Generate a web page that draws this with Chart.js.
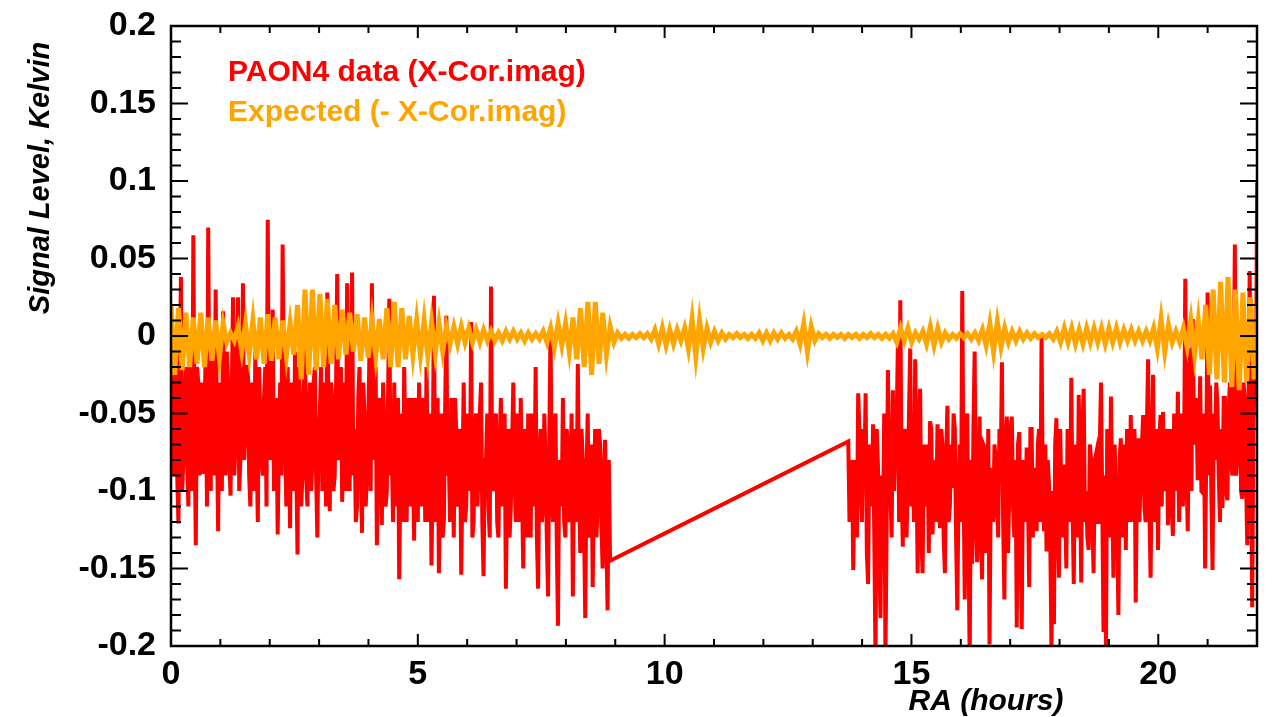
<!DOCTYPE html>
<html lang="en">
<head>
<meta charset="UTF-8">
<title>PAON4 X-Cor.imag</title>
<script src="https://cdn.jsdelivr.net/npm/chart.js@4.4.0/dist/chart.umd.min.js"></script>
<style>
    html, body { margin: 0; padding: 0; background: #fff; }
</style>
</head>
<body>

<canvas id="raChart" width="1272" height="717"></canvas>

<script>
    // RA axis (hours) and signal axis (Kelvin)
    const xTicks = [0, 5, 10, 15, 20];
    const yTicks = [-0.2, -0.15, -0.1, -0.05, 0, 0.05, 0.1, 0.15, 0.2];

    // PAON4 data, first stretch: samples from RA 0 h, every 0.05025 h,
    // redA on the whole steps, redAMid half a step later
    const redStartA = 0, redStepA = 0.05025;
    const redA = [
        -0.02, -0.09, -0.01, -0.121, 0.038, -0.08, -0.02, -0.11, -0.04, 0.065,
        -0.135, -0.03, -0.06, -0.089, -0.01, 0.070, -0.10, -0.04, 0.030, -0.126,
        -0.05, 0.016, -0.09, -0.03, -0.103, 0.025, -0.07, 0.025, -0.08, 0.034,
        -0.06, -0.02, -0.11, -0.04, -0.01, -0.12, -0.05, -0.09, -0.02, 0.075,
        -0.08, 0.017, -0.06, -0.128, -0.03, 0.059, -0.07, -0.02, -0.124, -0.05,
        -0.01, -0.141, -0.04, -0.09, 0.00, -0.11, -0.03, -0.08, -0.02, -0.130,
        -0.05, -0.10, -0.03, 0.028, -0.113, -0.04, -0.09, 0.040, -0.07, -0.107,
        -0.03, 0.034, -0.10, 0.041, -0.06, -0.11, -0.02, -0.127, -0.05, -0.09,
        -0.01, 0.034, -0.08, -0.135, -0.04, -0.122, -0.06, -0.10, 0.024, -0.07,
        -0.03, -0.11, -0.157, -0.05, -0.02, -0.12, -0.06, -0.04, -0.132, -0.07,
        -0.03, -0.11, -0.06, -0.02, -0.12, -0.148, 0.026, -0.09, -0.153, -0.05,
        -0.12, 0.013, -0.08, -0.04, -0.13, -0.06, -0.10, -0.154, -0.03, -0.11,
        -0.07, 0.009, -0.12, -0.05, -0.09, -0.03, -0.155, -0.08, -0.11, 0.032,
        -0.10, -0.05, -0.13, -0.04, -0.09, -0.163, -0.06, -0.11, -0.03, -0.12,
        -0.07, -0.04, -0.15, -0.09, -0.05, -0.13, -0.07, -0.02, -0.163, -0.06,
        -0.11, -0.08, -0.168, 0.006, -0.12, -0.05, -0.187, -0.09, -0.04, -0.13,
        -0.07, -0.11, -0.168, -0.06, -0.018, -0.14, -0.08, -0.182, -0.05, -0.12,
        -0.162, -0.06, -0.11, -0.07, -0.15, -0.067, -0.177, -0.145
    ];
    const redAMid = [
        -0.06, -0.04, -0.09, -0.02, -0.10, -0.05, -0.08, -0.01, -0.10, -0.06,
        -0.02, -0.09, -0.03, -0.05, -0.11, -0.07, -0.01, -0.09, -0.06, -0.03,
        -0.10, -0.06, -0.01, -0.08, -0.04, -0.09, -0.02, -0.10, -0.05, -0.08,
        -0.02, -0.09, -0.03, -0.10, -0.07, -0.02, -0.08, -0.04, -0.11, -0.06,
        -0.02, -0.10, -0.04, -0.07, -0.09, -0.03, -0.11, -0.06, -0.03, -0.10,
        -0.08, -0.02, -0.11, -0.04, -0.09, -0.05, -0.10, -0.03, -0.09, -0.06,
        -0.02, -0.07, -0.11, -0.05, -0.03, -0.10, -0.04, -0.08, -0.02, -0.06,
        -0.10, -0.07, -0.03, -0.09, -0.12, -0.04, -0.08, -0.03, -0.11, -0.06,
        -0.10, -0.05, -0.02, -0.09, -0.05, -0.03, -0.11, -0.04, -0.09, -0.12,
        -0.08, -0.04, -0.09, -0.12, -0.07, -0.04, -0.11, -0.08, -0.04, -0.12,
        -0.09, -0.04, -0.12, -0.08, -0.05, -0.09, -0.12, -0.04, -0.10, -0.13,
        -0.05, -0.09, -0.12, -0.07, -0.04, -0.11, -0.06, -0.09, -0.12, -0.05,
        -0.10, -0.13, -0.06, -0.11, -0.05, -0.12, -0.08, -0.05, -0.13, -0.09,
        -0.06, -0.12, -0.07, -0.11, -0.05, -0.10, -0.13, -0.07, -0.09, -0.05,
        -0.12, -0.10, -0.06, -0.13, -0.08, -0.05, -0.11, -0.13, -0.08, -0.12,
        -0.05, -0.13, -0.07, -0.10, -0.06, -0.13, -0.08, -0.11, -0.12, -0.06,
        -0.12, -0.05, -0.09, -0.12, -0.10, -0.06, -0.12, -0.09, -0.13, -0.07,
        -0.10, -0.13, -0.06, -0.12, -0.09, -0.13, -0.08
    ];

    // PAON4 data, second stretch: from RA 13.72 h, every 0.0502 h
    const redStartB = 13.72, redStepB = 0.0502;
    const redB = [
        -0.068, -0.10, -0.151, -0.08, -0.037, -0.097, -0.06, -0.037, -0.160, -0.09,
        -0.057, -0.21, -0.085, -0.182, -0.126, -0.21, -0.022, -0.10, -0.035, -0.07,
        -0.007, 0.023, -0.136, -0.06, -0.10, -0.008, -0.07, -0.015, -0.153, -0.034,
        -0.153, -0.09, -0.07, -0.055, -0.128, -0.08, -0.057, -0.124, -0.07, -0.153,
        -0.045, -0.11, -0.098, -0.06, -0.177, -0.07, 0.029, -0.17, -0.05, -0.21,
        -0.147, -0.01, -0.146, -0.052, -0.157, -0.072, -0.12, -0.199, -0.085, -0.07,
        -0.109, -0.06, -0.017, -0.17, -0.052, -0.098, -0.052, -0.13, -0.188, -0.062,
        -0.189, -0.09, -0.072, -0.162, -0.06, -0.085, -0.126, -0.06, -0.001, -0.126,
        -0.139, -0.095, -0.203, -0.186, -0.053, -0.156, -0.10, -0.083, -0.15, -0.07,
        -0.027, -0.160, -0.09, -0.038, -0.159, -0.034, -0.10, -0.138, -0.08, -0.153,
        -0.076, -0.12, -0.030, -0.191, -0.203, -0.09, -0.039, -0.156, -0.10, -0.180,
        -0.066, -0.11, -0.138, -0.08, -0.051, -0.12, -0.172, -0.066, -0.09, -0.051,
        -0.12, -0.015, -0.156, -0.025, -0.09, -0.138, -0.051, -0.049, -0.10, -0.122,
        -0.06, -0.129, -0.08, -0.036, -0.09, -0.110, 0.037, -0.126, -0.008, 0.011,
        -0.07, -0.093, -0.026, -0.101, -0.15, 0.028, -0.032, -0.151, -0.08, -0.045,
        -0.12, -0.111, -0.04, -0.106, -0.03, -0.09, 0.059, -0.078, -0.027, -0.105,
        -0.04, -0.135, 0.042, -0.175, -0.02, 0.099
    ];
    const redBMid = [
        -0.12, -0.08, -0.10, -0.13, -0.06, -0.12, -0.09, -0.14, -0.07, -0.11,
        -0.13, -0.06, -0.14, -0.09, -0.05, -0.12, -0.08, -0.13, -0.10, -0.06,
        -0.12, -0.09, -0.07, -0.13, -0.05, -0.11, -0.12, -0.08, -0.06, -0.13,
        -0.07, -0.11, -0.14, -0.06, -0.09, -0.12, -0.10, -0.06, -0.13, -0.08,
        -0.12, -0.07, -0.05, -0.13, -0.10, -0.12, -0.09, -0.06, -0.13, -0.08,
        -0.06, -0.12, -0.09, -0.13, -0.07, -0.14, -0.06, -0.10, -0.12, -0.08,
        -0.13, -0.09, -0.12, -0.07, -0.14, -0.06, -0.11, -0.08, -0.07, -0.13,
        -0.08, -0.12, -0.10, -0.06, -0.13, -0.09, -0.07, -0.12, -0.10, -0.07,
        -0.08, -0.13, -0.10, -0.07, -0.12, -0.06, -0.13, -0.11, -0.06, -0.12,
        -0.11, -0.07, -0.13, -0.09, -0.06, -0.12, -0.13, -0.07, -0.12, -0.08,
        -0.12, -0.07, -0.11, -0.09, -0.06, -0.13, -0.10, -0.07, -0.12, -0.08,
        -0.13, -0.07, -0.06, -0.12, -0.10, -0.06, -0.09, -0.12, -0.07, -0.11,
        -0.06, -0.11, -0.08, -0.12, -0.06, -0.07, -0.11, -0.09, -0.06, -0.08,
        -0.11, -0.05, -0.10, -0.12, -0.05, -0.08, -0.09, -0.04, -0.10, -0.06,
        -0.04, -0.08, -0.10, -0.05, -0.07, -0.09, -0.10, -0.05, -0.03, -0.09,
        -0.06, -0.04, -0.10, -0.05, -0.08, -0.04, -0.09, -0.05, -0.10, -0.03,
        -0.09, -0.05, -0.08, -0.06, -0.04
    ];

    // Expected signal: from RA 0 h, every 0.0754 h
    const orangeStart = 0, orangeStep = 0.0754;
    const orange = [
        0.02, -0.025, 0.018, -0.022, 0.015, -0.02, 0.012,
        -0.018, 0.015, -0.02, 0.012, -0.016, 0.01, -0.014,
        0.008, -0.004, 0.002, -0.003,
        0.006, -0.01, 0.008, -0.012, 0.01,
        -0.015, 0.012, -0.018, 0.014, -0.016, 0.012, -0.015, 0.01, -0.013, 0.008, -0.012,
        0.02, -0.028, 0.03, -0.025, 0.03, -0.022, 0.027, -0.02, 0.024, -0.018, 0.02, -0.015, 0.017,
        -0.012, 0.015, -0.01, 0.014, -0.016, 0.012, -0.014, 0.01, -0.013, 0.011, -0.015, 0.018, -0.02,
        0.022, -0.02, 0.018, -0.015, 0.013, -0.012, 0.01,
        -0.012, 0.01, -0.013, 0.009, -0.011, 0.008, -0.01,
        0.006, -0.005, 0.006, -0.005, 0.006, -0.004, 0.005, -0.004, 0.004, -0.004, 0.004,
        -0.003, 0.003, -0.003, 0.002, -0.003, 0.003, -0.002, 0.003, -0.002, 0.002, -0.003, 0.002,
        -0.002, 0.0015, -0.002, 0.003, -0.004, 0.005,
        -0.007, 0.008, -0.006, 0.008, -0.01, 0.012, -0.015,
        0.018, -0.02, 0.022, -0.025, 0.022, -0.018, 0.015, -0.012,
        0.006, -0.004, 0.002, -0.0015, 0.001, -0.0015, 0.001, -0.001, 0.0015, -0.001, 0.0015, -0.002,
        0.004, -0.005, 0.005, -0.006, 0.004, -0.005, 0.004, -0.003, 0.005,
        -0.008, 0.011, -0.013, 0.01, -0.008, 0.005,
        -0.004, 0.003, -0.003, 0.002, -0.002,
        0.001, -0.001, 0.0015, -0.001, 0.001, -0.0015, 0.001, -0.0015,
        0.002, -0.003, 0.002, -0.003, 0.002, -0.002, 0.002, -0.0015,
        0.001, -0.002, 0.003, -0.005,
        0.008, -0.01, 0.006,
        -0.003, 0.0015, -0.001, 0.001, -0.0015, 0.001, -0.001, 0.001, -0.0015, 0.001, -0.001,
        0.001, -0.0015, 0.001, -0.001, 0.0015, -0.001, 0.001, -0.0015, 0.001, -0.0015, 0.0015,
        -0.004, 0.005, -0.003, 0.005, -0.004,
        0.002, -0.002, 0.003,
        -0.005, 0.006, -0.006, 0.005, -0.004,
        0.002, -0.002, 0.001, -0.0015, 0.0015, -0.001, 0.0015, -0.002, 0.002, -0.003, 0.004,
        -0.006, 0.008, -0.01, 0.009, -0.007, 0.005, -0.004,
        0.003, -0.003, 0.003, -0.002, 0.002, -0.0015, 0.0015, -0.001,
        0.001, -0.001, 0.0015, -0.002, 0.003,
        -0.004, 0.005, -0.004, 0.005, -0.005, 0.004, -0.005, 0.005, -0.004, 0.005, -0.004, 0.005,
        -0.005, 0.005, -0.004, 0.005, -0.004, 0.004, -0.003, 0.004, -0.003, 0.003, -0.003, 0.003,
        -0.003, 0.005, -0.008,
        0.011, -0.01, 0.007,
        -0.004, 0.003, -0.004, 0.005, -0.007,
        0.01, -0.012, 0.01, -0.015,
        0.02, -0.025, 0.03, -0.028, 0.035, -0.03, 0.038, -0.033, 0.03, -0.035, 0.028, -0.03, 0.025, -0.028, 0.02
    ];

    const RED = '#ff0000';
    const ORANGE = '#ffa500';
    const FONT = '"Liberation Sans", Arial, Helvetica, sans-serif';

    const toPoints = (values, start, step) => values.map((v, i) => ({x: start + i * step, y: v}));
    // whole-step samples followed by their half-step neighbours
    const interleave = (values, mids, start, step) => {
        const pts = [];
        values.forEach((v, i) => {
            pts.push({x: start + i * step, y: v});
            if (i < mids.length) pts.push({x: start + (i + 0.5) * step, y: mids[i]});
        });
        return pts;
    };

    // inside ticks, frame box, text legend and axis titles
    const decorations = {
        id: 'decorations',
        afterDatasetsDraw(chart) {
            const {ctx, chartArea: a, scales: {x, y}} = chart;
            ctx.save();
            ctx.strokeStyle = '#000';
            ctx.lineWidth = 2;
            ctx.beginPath();
            for (let h = 0; h <= 22; h++) {
                const px = x.getPixelForValue(h);
                const len = h % 5 === 0 ? 12 : 7;
                ctx.moveTo(px, a.bottom); ctx.lineTo(px, a.bottom - len);
                ctx.moveTo(px, a.top); ctx.lineTo(px, a.top + len);
            }
            for (let i = -20; i <= 20; i++) {
                const py = y.getPixelForValue(i / 100);
                const len = i % 5 === 0 ? 17 : 10;
                ctx.moveTo(a.left, py); ctx.lineTo(a.left + len, py);
                ctx.moveTo(a.right, py); ctx.lineTo(a.right - len, py);
            }
            ctx.stroke();
            ctx.lineWidth = 2.5;
            ctx.strokeRect(a.left, a.top, a.right - a.left, a.bottom - a.top);
            ctx.restore();
        },
        afterDraw(chart) {
            const {ctx, chartArea: a} = chart;
            ctx.save();
            ctx.textBaseline = 'middle';
            ctx.font = `bold 30px ${FONT}`;
            ctx.textAlign = 'left';
            // legend: dataset 1 (red) first, then dataset 0 (orange)
            [1, 0].forEach((idx, row) => {
                const ds = chart.data.datasets[idx];
                ctx.fillStyle = ds.borderColor;
                ctx.fillText(ds.label, a.left + 57, a.top + 47 + row * 40);
            });
            ctx.fillStyle = '#000';
            ctx.font = `italic bold 30px ${FONT}`;
            ctx.textAlign = 'center';
            ctx.fillText('RA (hours)', a.left + 815, a.bottom + 56);
            ctx.translate(a.left - 130, a.top + 152);
            ctx.rotate(-Math.PI / 2);
            ctx.font = `italic bold 29px ${FONT}`;
            ctx.fillText('Signal Level, Kelvin', 0, 0);
            ctx.restore();
        }
    };

    const tickFont = {family: FONT, size: 34, weight: 'bold'};

    new Chart(document.getElementById('raChart'), {
        type: 'scatter',
        data: {
            datasets: [{
                label: 'Expected (- X-Cor.imag)',
                data: toPoints(orange, orangeStart, orangeStep),
                showLine: true,
                borderColor: ORANGE,
                borderWidth: 5,
                pointRadius: 0,
            }, {
                label: 'PAON4 data (X-Cor.imag)',
                data: interleave(redA, redAMid, redStartA, redStepA)
                    .concat(interleave(redB, redBMid, redStartB, redStepB)),
                showLine: true,
                borderColor: RED,
                borderWidth: 4,
                pointRadius: 0,
            }]
        },
        options: {
            responsive: false,
            animation: false,
            layout: {padding: {top: 26, right: 15, left: 0, bottom: 0}},
            plugins: {
                legend: {display: false},
                tooltip: {enabled: false},
            },
            scales: {
                x: {
                    type: 'linear',
                    min: 0,
                    max: 22,
                    afterBuildTicks: s => { s.ticks = xTicks.map(v => ({value: v})); },
                    afterFit: s => { s.height = 71; s.paddingLeft = 0; s.paddingRight = 0; },
                    grid: {display: false, drawTicks: false},
                    border: {display: false},
                    ticks: {font: tickFont, color: '#000', padding: 8, maxRotation: 0, autoSkip: false,
                            callback: v => String(v)},
                },
                y: {
                    min: -0.2,
                    max: 0.2,
                    afterBuildTicks: s => { s.ticks = yTicks.map(v => ({value: v})); },
                    afterFit: s => { s.width = 171; s.paddingTop = 0; s.paddingBottom = 0; },
                    grid: {display: false, drawTicks: false},
                    border: {display: false},
                    ticks: {font: tickFont, color: '#000', padding: 15, autoSkip: false,
                            callback: v => String(v)},
                }
            }
        },
        plugins: [decorations]
    });
</script>

</body>
</html>
